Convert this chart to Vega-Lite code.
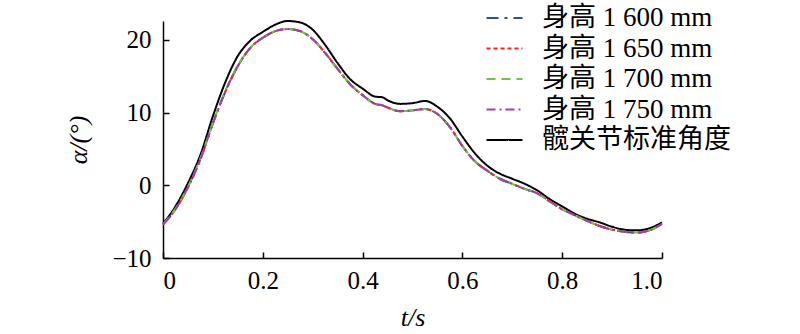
{
  "$schema": "https://vega.github.io/schema/vega-lite/v6.json",
  "autosize": {"type": "none"},
  "padding": {"left": 163, "top": 21, "right": 138, "bottom": 76},
  "width": 499,
  "height": 237,
  "background": "white",
  "config": {
    "view": {"stroke": null},
    "font": "Liberation Serif",
    "axis": {"grid": false, "domainColor": "black", "domainWidth": 1.5, "tickColor": "black", "tickWidth": 1.5, "labelColor": "black", "titleColor": "black", "labelFont": "Liberation Serif", "titleFont": "Liberation Serif", "labelFontSize": 25, "titleFontSize": 26, "titleFontWeight": "normal"}
  },
  "data": {"values": [
    {"t": 0, "std": -5.3, "p1": -5.4, "p2": -5.4, "p3": -5.4, "p4": -5.4},
    {"t": 0.025, "std": -2.9, "p1": -3.3, "p2": -3.3, "p3": -3.2, "p4": -3.3},
    {"t": 0.05, "std": 0.3, "p1": -0.3, "p2": -0.3, "p3": -0.2, "p4": -0.3},
    {"t": 0.075, "std": 4.2, "p1": 3.6, "p2": 3.6, "p3": 3.7, "p4": 3.6},
    {"t": 0.1, "std": 9.5, "p1": 8.5, "p2": 8.5, "p3": 8.6, "p4": 8.5},
    {"t": 0.125, "std": 14.2, "p1": 12.9, "p2": 12.9, "p3": 13.0, "p4": 12.9},
    {"t": 0.15, "std": 17.8, "p1": 16.4, "p2": 16.4, "p3": 16.5, "p4": 16.4},
    {"t": 0.175, "std": 19.9, "p1": 18.9, "p2": 18.9, "p3": 18.9, "p4": 18.9},
    {"t": 0.2, "std": 21.1, "p1": 20.3, "p2": 20.3, "p3": 20.3, "p4": 20.3},
    {"t": 0.225, "std": 22.1, "p1": 21.2, "p2": 21.2, "p3": 21.2, "p4": 21.2},
    {"t": 0.25, "std": 22.6, "p1": 21.5, "p2": 21.5, "p3": 21.5, "p4": 21.5},
    {"t": 0.275, "std": 22.4, "p1": 21.2, "p2": 21.2, "p3": 21.2, "p4": 21.2},
    {"t": 0.3, "std": 21.4, "p1": 20.1, "p2": 20.1, "p3": 20.1, "p4": 20.1},
    {"t": 0.325, "std": 19.3, "p1": 18.2, "p2": 18.2, "p3": 18.2, "p4": 18.2},
    {"t": 0.35, "std": 16.8, "p1": 16.0, "p2": 16.0, "p3": 16.0, "p4": 16.0},
    {"t": 0.375, "std": 14.6, "p1": 13.9, "p2": 13.9, "p3": 13.9, "p4": 13.9},
    {"t": 0.4, "std": 13.3, "p1": 12.4, "p2": 12.4, "p3": 12.4, "p4": 12.4},
    {"t": 0.425, "std": 12.2, "p1": 11.2, "p2": 11.2, "p3": 11.2, "p4": 11.2},
    {"t": 0.44, "std": 12.1, "p1": 11.0, "p2": 11.0, "p3": 11.0, "p4": 11.0},
    {"t": 0.45, "std": 11.7, "p1": 10.7, "p2": 10.7, "p3": 10.7, "p4": 10.7},
    {"t": 0.475, "std": 11.2, "p1": 10.2, "p2": 10.2, "p3": 10.2, "p4": 10.2},
    {"t": 0.5, "std": 11.3, "p1": 10.3, "p2": 10.3, "p3": 10.3, "p4": 10.3},
    {"t": 0.525, "std": 11.6, "p1": 10.5, "p2": 10.5, "p3": 10.5, "p4": 10.5},
    {"t": 0.55, "std": 10.8, "p1": 9.8, "p2": 9.8, "p3": 9.8, "p4": 9.8},
    {"t": 0.575, "std": 9.2, "p1": 8.0, "p2": 8.0, "p3": 8.0, "p4": 8.0},
    {"t": 0.6, "std": 6.7, "p1": 5.4, "p2": 5.4, "p3": 5.4, "p4": 5.4},
    {"t": 0.625, "std": 4.4, "p1": 3.3, "p2": 3.3, "p3": 3.3, "p4": 3.3},
    {"t": 0.65, "std": 2.7, "p1": 2.0, "p2": 2.0, "p3": 2.0, "p4": 2.0},
    {"t": 0.675, "std": 1.6, "p1": 0.9, "p2": 0.9, "p3": 0.9, "p4": 0.9},
    {"t": 0.7, "std": 0.9, "p1": 0.2, "p2": 0.2, "p3": 0.2, "p4": 0.2},
    {"t": 0.725, "std": 0.2, "p1": -0.5, "p2": -0.5, "p3": -0.5, "p4": -0.5},
    {"t": 0.75, "std": -0.7, "p1": -1.1, "p2": -1.1, "p3": -1.1, "p4": -1.1},
    {"t": 0.775, "std": -1.9, "p1": -2.2, "p2": -2.2, "p3": -2.2, "p4": -2.2},
    {"t": 0.8, "std": -2.9, "p1": -3.3, "p2": -3.3, "p3": -3.3, "p4": -3.3},
    {"t": 0.825, "std": -3.9, "p1": -4.1, "p2": -4.1, "p3": -4.1, "p4": -4.1},
    {"t": 0.85, "std": -4.6, "p1": -4.9, "p2": -4.9, "p3": -4.9, "p4": -4.9},
    {"t": 0.875, "std": -5.1, "p1": -5.6, "p2": -5.6, "p3": -5.6, "p4": -5.6},
    {"t": 0.9, "std": -5.7, "p1": -6.1, "p2": -6.1, "p3": -6.1, "p4": -6.1},
    {"t": 0.925, "std": -6.1, "p1": -6.4, "p2": -6.4, "p3": -6.4, "p4": -6.4},
    {"t": 0.95, "std": -6.2, "p1": -6.5, "p2": -6.5, "p3": -6.5, "p4": -6.5},
    {"t": 0.975, "std": -5.9, "p1": -6.2, "p2": -6.2, "p3": -6.2, "p4": -6.2},
    {"t": 1.0, "std": -5.1, "p1": -5.3, "p2": -5.3, "p3": -5.3, "p4": -5.3}
  ]},
  "transform": [
    {"fold": ["std", "p1", "p2", "p3", "p4"], "as": ["k", "v"]}
  ],
  "mark": {"type": "line", "interpolate": "monotone", "strokeWidth": 2, "clip": false},
  "encoding": {
    "x": {"field": "t", "type": "quantitative",
      "scale": {"domain": [0, 1], "nice": false},
      "axis": {"values": [0, 0.2, 0.4, 0.6, 0.8, 1.0], "labelExpr": "datum.value == 0 ? '0' : format(datum.value, '.1f')", "tickSize": -6, "labelPadding": 16, "title": "t/s", "titlePadding": 11, "titleFontStyle": "italic"}},
    "y": {"field": "v", "type": "quantitative",
      "scale": {"domain": [-10, 22.6], "nice": false, "zero": false},
      "axis": {"values": [-10, 0, 10, 20], "tickSize": -6, "labelPadding": 18, "title": "α/(°)", "titlePadding": 20, "titleFontStyle": "italic"}},
    "color": {"field": "k", "type": "nominal",
      "scale": {"domain": ["p1", "p2", "p3", "p4", "std"], "range": ["#2f4f9f", "#ff1f1f", "#66cc33", "#a040a8", "#000000"]},
      "legend": {"orient": "none", "legendX": 328, "legendY": -16.5, "title": null, "symbolType": "M-1.8,0H1.8", "symbolSize": 400, "symbolStrokeWidth": 2, "labelFont": "Liberation Serif, Noto Sans CJK SC", "labelFontSize": 27, "labelColor": "black", "labelOffset": 24, "rowPadding": 2.5, "labelLimit": 300, "padding": 0,
        "labelExpr": "{'p1': '身高 1 600 mm', 'p2': '身高 1 650 mm', 'p3': '身高 1 700 mm', 'p4': '身高 1 750 mm', 'std': '髋关节标准角度'}[datum.value]"}},
    "strokeDash": {"field": "k", "type": "nominal",
      "scale": {"domain": ["p1", "p2", "p3", "p4", "std"], "range": [[12, 6, 3, 6], [4, 3], [9, 6], [9, 4, 2, 4], [1, 0]]},
      "legend": null}
  }
}
